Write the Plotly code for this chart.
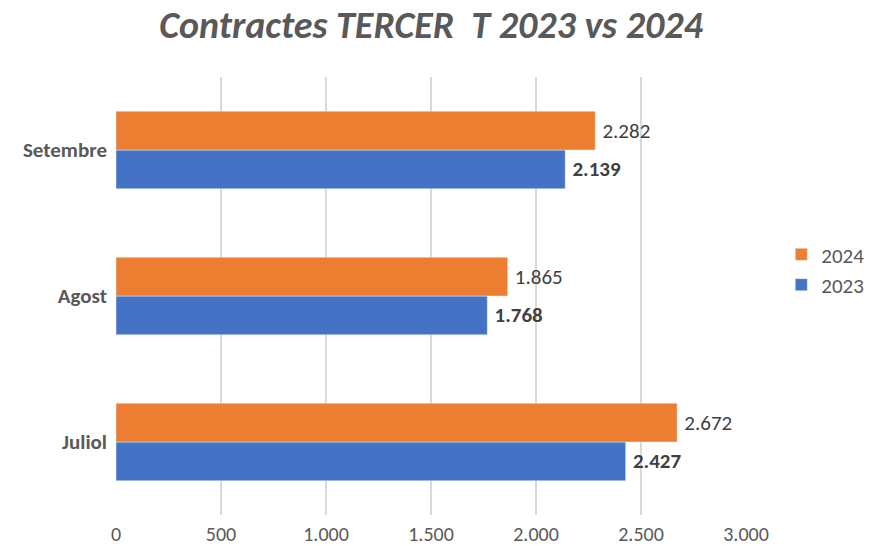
import plotly.graph_objects as go

categories = ["Juliol", "Agost", "Setembre"]
values_2023 = [2427, 1768, 2139]
values_2024 = [2672, 1865, 2282]
x_ticks = [0, 500, 1000, 1500, 2000, 2500, 3000]

FONT = "Carlito, Calibri, Lato, sans-serif"

fig = go.Figure()
fig.add_trace(go.Bar(
    y=categories, x=values_2023, name="2023", orientation="h",
    marker_color="#4472C4",
    texttemplate="\u2009<b>%{x:,}</b>", textposition="outside",
    textfont=dict(family=FONT, size=21, color="#404040"),
    cliponaxis=False,
))
fig.add_trace(go.Bar(
    y=categories, x=values_2024, name="2024", orientation="h",
    marker_color="#ED7D31",
    texttemplate="\u2009%{x:,}", textposition="outside",
    textfont=dict(family=FONT, size=21, color="#404040"),
    cliponaxis=False,
))

fig.update_layout(
    width=872, height=546,
    paper_bgcolor="white", plot_bgcolor="white",
    separators=",.",
    barmode="group", bargap=0.47, bargroupgap=0,
    margin=dict(l=116, r=126, t=77, b=31, autoexpand=False),
    title=dict(
        text="<b><i>Contractes TERCER  T 2023 vs 2024</i></b>",
        x=0.5, xanchor="center", y=1 - 25 / 546, yanchor="middle",
        xref="paper",
        font=dict(family=FONT, size=38, color="#595959"),
    ),
    legend=dict(
        x=1.056, xanchor="left", y=0.56, yanchor="middle",
        traceorder="reversed",
        font=dict(family=FONT, size=21, color="#595959"),
        itemwidth=30,
    ),
    font=dict(family=FONT, color="#595959"),
)
fig.update_xaxes(
    range=[0, 3000], tickvals=x_ticks, tickformat=",",
    showgrid=True, gridcolor="#D9D9D9", gridwidth=1.5,
    zeroline=False, showline=False,
    tickfont=dict(family=FONT, size=20, color="#595959"),
    ticks="", automargin=False, ticklabelstandoff=5,
)
fig.update_yaxes(
    showgrid=False, showline=False, ticks="",
    ticklabelstandoff=8,
    tickfont=dict(family=FONT, size=21, color="#595959"),
    automargin=False,
)
# bold category labels
fig.update_yaxes(tickvals=categories, ticktext=["<b>" + c + "</b>" for c in categories])

fig.write_html(
    "out.html",
    config={"displayModeBar": False},
    post_script="document.body.style.margin='0';",
)
